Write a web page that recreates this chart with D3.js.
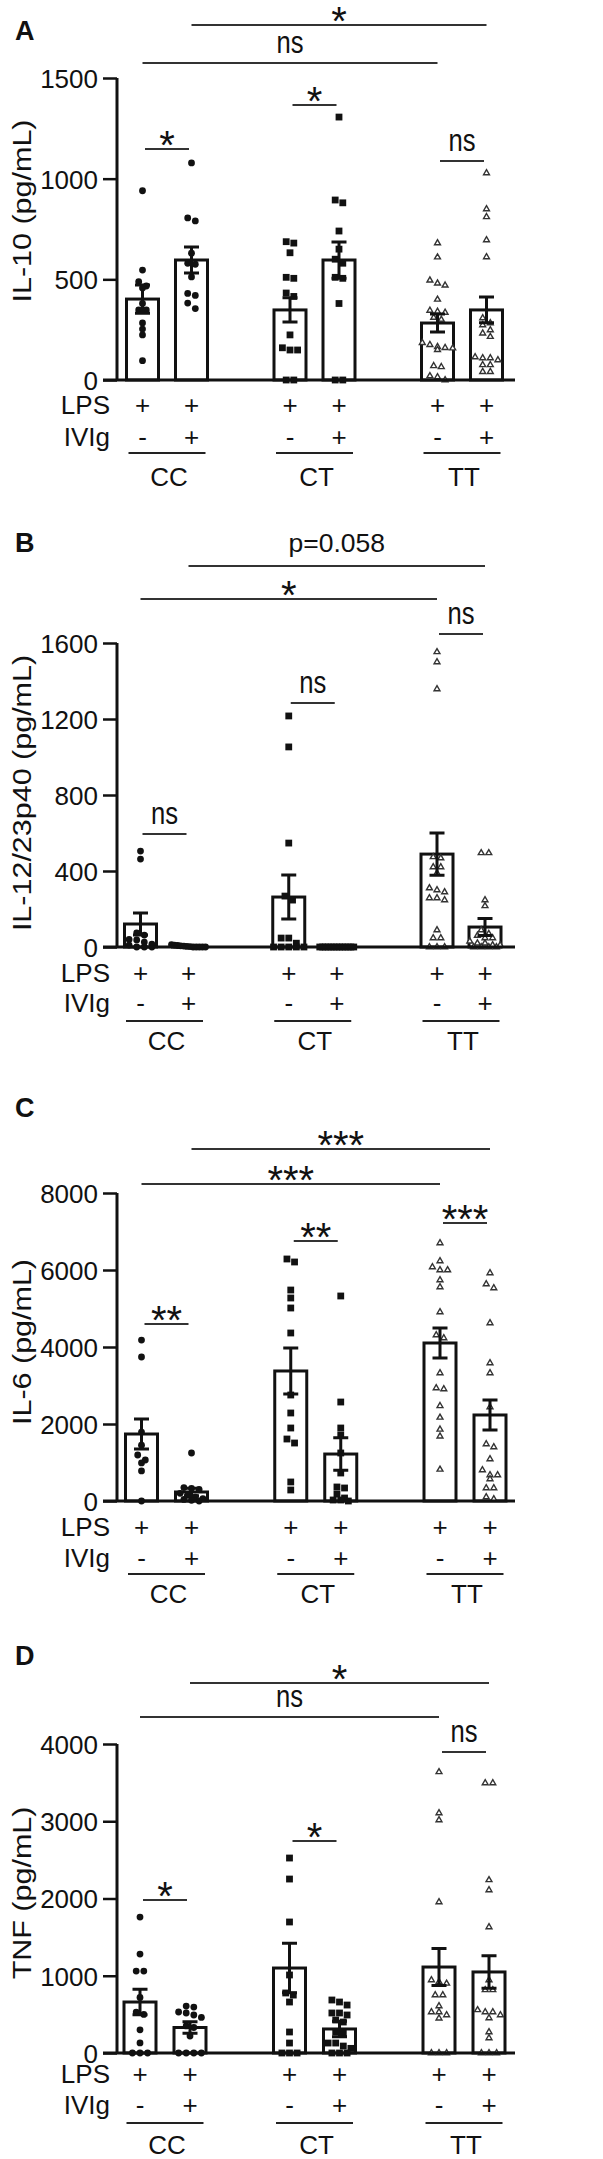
<!DOCTYPE html>
<html><head><meta charset="utf-8">
<script src="https://cdn.jsdelivr.net/npm/d3@7"></script>
<style>
body{margin:0;background:#fff}
svg{display:block}
text{font-family:"Liberation Sans",Arial,Helvetica,sans-serif;fill:#111}
</style>
</head><body>
<svg id="c" width="603" height="2159"></svg>
<script>
// ---------- shared categories ----------
const genotypes = ["CC", "CT", "TT"];
const lpsLabels = ["+", "+"];
const ivigLabels = ["-", "+"];
const rowLabels = ["LPS", "IVIg"];

// ---------- Panel A : IL-10 ----------
const il10Ticks = [0, 500, 1000, 1500];
const il10Mean = [402, 596, 348, 596, 283, 348];
const il10Sem = [70, 64, 60, 90, 45, 64];
const il10_CC_ctrl = [940, 546, 488, 467, 457, 380, 348, 348, 283, 253, 224, 96];
const il10_CC_ivig = [1078, 805, 790, 630, 580, 575, 512, 430, 420, 382, 355];
const il10_CT_ctrl = [687, 680, 632, 510, 505, 432, 415, 224, 160, 149, 149, 0, 0];
const il10_CT_ivig = [1306, 894, 880, 740, 650, 600, 580, 510, 505, 380, 0, 0];
const il10_TT_ctrl = [680, 610, 495, 480, 470, 400, 345, 340, 335, 310, 300, 185, 175, 165, 160, 158, 150, 70, 65, 20, 15, 0];
const il10_TT_ivig = [1028, 849, 810, 695, 611, 308, 283, 273, 248, 232, 215, 114, 109, 109, 99, 75, 75, 41, 41];

// ---------- Panel B : IL-12/23p40 ----------
const il12Ticks = [0, 400, 800, 1200, 1600];
const il12Mean = [121, 5, 263, 3, 489, 105];
const il12Sem = [58, 3, 116, 2, 111, 45];
const il12_CC_ctrl = [505, 463, 74, 63, 40, 37, 26, 15, 10, 0, 0, 0];
const il12_CC_ivig = [12, 10, 8, 6, 5, 3, 2, 0, 0, 0, 0, 0];
const il12_CT_ctrl = [1216, 1053, 547, 268, 247, 47, 47, 20, 0, 0, 0, 0, 0];
const il12_CT_ivig = [0, 0, 0, 0, 0, 0, 0, 0, 0, 0, 0, 0, 0];
const il12_TT_ctrl = [1553, 1500, 1358, 474, 468, 421, 421, 389, 310, 300, 289, 258, 258, 247, 89, 47, 47, 0, 0, 0];
const il12_TT_ivig = [495, 495, 247, 216, 89, 70, 60, 47, 47, 30, 20, 20, 10, 10, 0, 0, 0, 0];

// ---------- Panel C : IL-6 ----------
const il6Ticks = [0, 2000, 4000, 6000, 8000];
const il6Mean = [1740, 234, 3377, 1220, 4104, 2234];
const il6Sem = [390, 100, 600, 420, 390, 390];
const il6_CC_ctrl = [4180, 3740, 1790, 1450, 1195, 1065, 990, 780, 0];
const il6_CC_ivig = [1247, 350, 330, 300, 200, 150, 100, 60, 40, 20, 0];
const il6_CT_ctrl = [6286, 6208, 5480, 5273, 5013, 4364, 2753, 2286, 1896, 1610, 1506, 494, 286];
const il6_CT_ivig = [5325, 2571, 1896, 1714, 1247, 727, 364, 338, 182, 78, 26, 26, 0];
const il6_TT_ctrl = [6701, 6234, 6078, 6000, 6000, 5740, 5558, 4909, 4312, 4234, 3325, 2935, 2909, 2470, 2170, 1860, 1680, 820];
const il6_TT_ivig = [5922, 5636, 5532, 4623, 3584, 3325, 2440, 1481, 1403, 1091, 805, 675, 675, 571, 338, 338, 104, 50];

// ---------- Panel D : TNF ----------
const tnfTicks = [0, 1000, 2000, 3000, 4000];
const tnfMean = [660, 330, 1100, 311, 1113, 1049];
const tnfSem = [165, 75, 320, 100, 240, 210];
const tnf_CC_ctrl = [1760, 1280, 1060, 1060, 720, 530, 500, 300, 130, 0, 0, 0];
const tnf_CC_ivig = [608, 595, 531, 518, 492, 460, 350, 330, 220, 0, 0, 0, 0];
const tnf_CT_ctrl = [2524, 2252, 1696, 1010, 777, 750, 660, 272, 129, 0, 0, 0];
const tnf_CT_ivig = [686, 660, 621, 518, 518, 492, 427, 401, 272, 259, 129, 129, 90, 60, 0, 0, 0];
const tnf_TT_ctrl = [3638, 3106, 3016, 1955, 945, 920, 900, 750, 750, 608, 531, 531, 492, 450, 0, 0, 0];
const tnf_TT_ivig = [3495, 3495, 2240, 2110, 1631, 945, 816, 816, 557, 531, 531, 492, 453, 272, 194, 0, 0, 0];

// ---------- significance annotations ----------
const il10Sig = [
  {from: 1, to: 5, text: "*"}, {from: 0, to: 4, text: "ns"},
  {group: 0, text: "*"}, {group: 1, text: "*"}, {group: 2, text: "ns"}];
const il12Sig = [
  {from: 1, to: 5, text: "p=0.058"}, {from: 0, to: 4, text: "*"},
  {group: 2, text: "ns"}, {group: 1, text: "ns"}, {group: 0, text: "ns"}];
const il6Sig = [
  {from: 1, to: 5, text: "***"}, {from: 0, to: 4, text: "***"},
  {group: 2, text: "***"}, {group: 1, text: "**"}, {group: 0, text: "**"}];
const tnfSig = [
  {from: 1, to: 5, text: "*"}, {from: 0, to: 4, text: "ns"},
  {group: 2, text: "ns"}, {group: 1, text: "*"}, {group: 0, text: "*"}];

// ---------- panels (layout separate from values) ----------
const panels = [
  {letter: "A", title: "IL-10 (pg/mL)", ticks: il10Ticks, mean: il10Mean, sem: il10Sem,
   points: [il10_CC_ctrl, il10_CC_ivig, il10_CT_ctrl, il10_CT_ivig, il10_TT_ctrl, il10_TT_ivig], sig: il10Sig,
   L: {zero: 380, top: 78, letterY: 40, titleY: 211, groups: [167, 462], off: 24.5,
       sigY: [25, 63, 149, 105, 161], rows: [25, 57, 73, 97]}},
  {letter: "B", title: "IL-12/23p40 (pg/mL)", ticks: il12Ticks, mean: il12Mean, sem: il12Sem,
   points: [il12_CC_ctrl, il12_CC_ivig, il12_CT_ctrl, il12_CT_ivig, il12_TT_ctrl, il12_TT_ivig], sig: il12Sig,
   L: {zero: 947, top: 643, letterY: 552, titleY: 793, groups: [164.5, 461], off: 24,
       sigY: [566, 599, 634, 703, 834], rows: [26, 56, 74, 94]}},
  {letter: "C", title: "IL-6 (pg/mL)", ticks: il6Ticks, mean: il6Mean, sem: il6Sem,
   points: [il6_CC_ctrl, il6_CC_ivig, il6_CT_ctrl, il6_CT_ivig, il6_TT_ctrl, il6_TT_ivig], sig: il6Sig,
   L: {zero: 1501, top: 1193, letterY: 1117, titleY: 1342, groups: [166.5, 465], off: 25,
       sigY: [1149, 1184, 1223, 1241, 1324], rows: [26, 57, 73, 93]}},
  {letter: "D", title: "TNF (pg/mL)", ticks: tnfTicks, mean: tnfMean, sem: tnfSem,
   points: [tnf_CC_ctrl, tnf_CC_ivig, tnf_CT_ctrl, tnf_CT_ivig, tnf_TT_ctrl, tnf_TT_ivig], sig: tnfSig,
   L: {zero: 2053, top: 1744, letterY: 1665, titleY: 1893, groups: [165, 464], off: 25,
       sigY: [1683, 1717, 1752, 1841, 1900], rows: [21, 52, 70, 92]}}
];

const svg = d3.select("#c");
svg.append("rect").attr("width", 603).attr("height", 2159).attr("fill", "#fff");

const AXIS_X = 117, BAR_W = 32, FONT = 26;

function swarm(values, y, s) {
  const pts = values.map(v => ({v, y: y(v)})).sort((a, b) => a.y - b.y);
  const rows = [];
  pts.forEach(p => {
    const last = rows[rows.length - 1];
    if (last && p.y - last[0].y < 5.5) last.push(p); else rows.push([p]);
  });
  rows.forEach(r => {
    const step = r.length > 1 ? Math.min(s, 34 / (r.length - 1)) : s;
    r.forEach((p, i) => p.dx = (i - (r.length - 1) / 2) * step);
  });
  return pts;
}

panels.forEach(P => {
  const L = P.L;
  const g = svg.append("g");
  const y = d3.scaleLinear().domain([0, d3.max(P.ticks)]).range([L.zero, L.top]);
  const xg = d3.scalePoint().domain(genotypes).range(L.groups);
  const xt = d3.scalePoint().domain(ivigLabels).range([-L.off, L.off]);
  const bars = [];
  genotypes.forEach(gt => ivigLabels.forEach(iv => bars.push({gt, iv, cx: xg(gt) + xt(iv)})));
  bars.forEach((b, i) => { b.mean = P.mean[i]; b.sem = P.sem[i]; b.pts = P.points[i]; });

  // panel letter
  g.append("text").attr("x", 15).attr("y", L.letterY).attr("font-size", 27).attr("font-weight", "bold").text(P.letter);

  // y title
  g.append("text").attr("transform", `translate(22,${L.titleY}) rotate(-90) scale(1,0.82)`)
    .attr("text-anchor", "middle").attr("dominant-baseline", "central").attr("font-size", 30.5).text(P.title);

  // y axis
  const yAxis = d3.axisLeft(y).tickValues(P.ticks).tickSize(14).tickPadding(5).tickFormat(d3.format("d"));
  const ya = g.append("g").attr("transform", `translate(${AXIS_X},0)`).call(yAxis);
  ya.select(".domain").attr("d", `M0,${L.top}V${L.zero}`).attr("stroke", "#111").attr("stroke-width", 3);
  ya.selectAll(".tick line").attr("stroke", "#111").attr("stroke-width", 2.5);
  ya.selectAll(".tick text").attr("font-size", FONT).attr("fill", "#111")
    .attr("font-family", '"Liberation Sans",Arial,sans-serif').attr("dy", "0.36em");

  // bars
  g.selectAll("rect.bar").data(bars).join("rect").attr("class", "bar")
    .attr("x", d => d.cx - BAR_W / 2).attr("width", BAR_W)
    .attr("y", d => y(d.mean)).attr("height", d => L.zero - y(d.mean))
    .attr("fill", "#fff").attr("stroke", "#111").attr("stroke-width", 3);

  // points
  bars.forEach(b => {
    const pts = swarm(b.pts, y, 7.6);
    const pg = g.append("g");
    if (b.gt === "CC") {
      pg.selectAll("circle").data(pts).join("circle")
        .attr("cx", d => b.cx + d.dx).attr("cy", d => d.y).attr("r", 3.4).attr("fill", "#111");
    } else if (b.gt === "CT") {
      pg.selectAll("rect").data(pts).join("rect")
        .attr("x", d => b.cx + d.dx - 3.4).attr("y", d => d.y - 3.4).attr("width", 6.8).attr("height", 6.8).attr("fill", "#111");
    } else {
      const tri = d3.symbol(d3.symbolTriangle, 15);
      pg.selectAll("path").data(pts).join("path")
        .attr("d", tri).attr("transform", d => `translate(${b.cx + d.dx},${d.y})`)
        .attr("fill", "#fff").attr("stroke", "#333").attr("stroke-width", 1.4);
    }
  });

  // error bars
  bars.forEach(b => {
    const y1 = y(b.mean + b.sem), y0 = y(Math.max(0, b.mean - b.sem));
    g.append("path").attr("d", `M${b.cx},${y0}V${y1}M${b.cx - 7.5},${y1}H${b.cx + 7.5}M${b.cx - 7.5},${y0}H${b.cx + 7.5}`)
      .attr("stroke", "#111").attr("stroke-width", 3).attr("fill", "none");
  });

  // x axis baseline
  g.append("line").attr("x1", 103).attr("x2", 515).attr("y1", L.zero).attr("y2", L.zero)
    .attr("stroke", "#111").attr("stroke-width", 3);

  // treatment rows
  const rowY = [L.zero + L.rows[0], L.zero + L.rows[1]];
  rowLabels.forEach((r, i) => g.append("text").attr("x", 110).attr("y", rowY[i]).attr("text-anchor", "end")
    .attr("dominant-baseline", "central").attr("font-size", FONT).text(r));
  g.selectAll("text.lps").data(bars).join("text").attr("class", "lps")
    .attr("x", d => d.cx).attr("y", rowY[0]).attr("text-anchor", "middle").attr("dominant-baseline", "central")
    .attr("font-size", FONT).text((d, i) => lpsLabels[i % 2]);
  g.selectAll("text.ivig").data(bars).join("text").attr("class", "ivig")
    .attr("x", d => d.cx).attr("y", rowY[1]).attr("text-anchor", "middle").attr("dominant-baseline", "central")
    .attr("font-size", FONT).text(d => d.iv);
  // genotype underline + labels
  genotypes.forEach(gt => {
    const c = xg(gt);
    g.append("line").attr("x1", c - 38.5).attr("x2", c + 38.5).attr("y1", L.zero + L.rows[2]).attr("y2", L.zero + L.rows[2])
      .attr("stroke", "#222").attr("stroke-width", 1.8);
    g.append("text").attr("x", c + 2).attr("y", L.zero + L.rows[3]).attr("text-anchor", "middle")
      .attr("dominant-baseline", "central").attr("font-size", FONT).text(gt);
  });

  // significance brackets
  P.sig.forEach((s, i) => {
    const ly = L.sigY[i];
    let x1, x2;
    if (s.group !== undefined) { const c = xg(genotypes[s.group]); x1 = c - 22; x2 = c + 22; }
    else { x1 = bars[s.from].cx; x2 = bars[s.to].cx; }
    g.append("line").attr("x1", x1).attr("x2", x2).attr("y1", ly).attr("y2", ly)
      .attr("stroke", "#333").attr("stroke-width", 2);
    const cx = (x1 + x2) / 2;
    if (s.text.startsWith("*")) {
      g.append("text").attr("x", cx).attr("y", ly + 10).attr("text-anchor", "middle")
        .attr("font-size", 40).text(s.text);
    } else if (s.text === "ns") {
      g.append("text").attr("transform", `translate(${cx},${ly - 10}) scale(0.8,1)`).attr("text-anchor", "middle")
        .attr("font-size", 32).text(s.text);
    } else {
      g.append("text").attr("x", cx).attr("y", ly - 14).attr("text-anchor", "middle")
        .attr("font-size", 26.5).text(s.text);
    }
  });
});
</script>
</body></html>
